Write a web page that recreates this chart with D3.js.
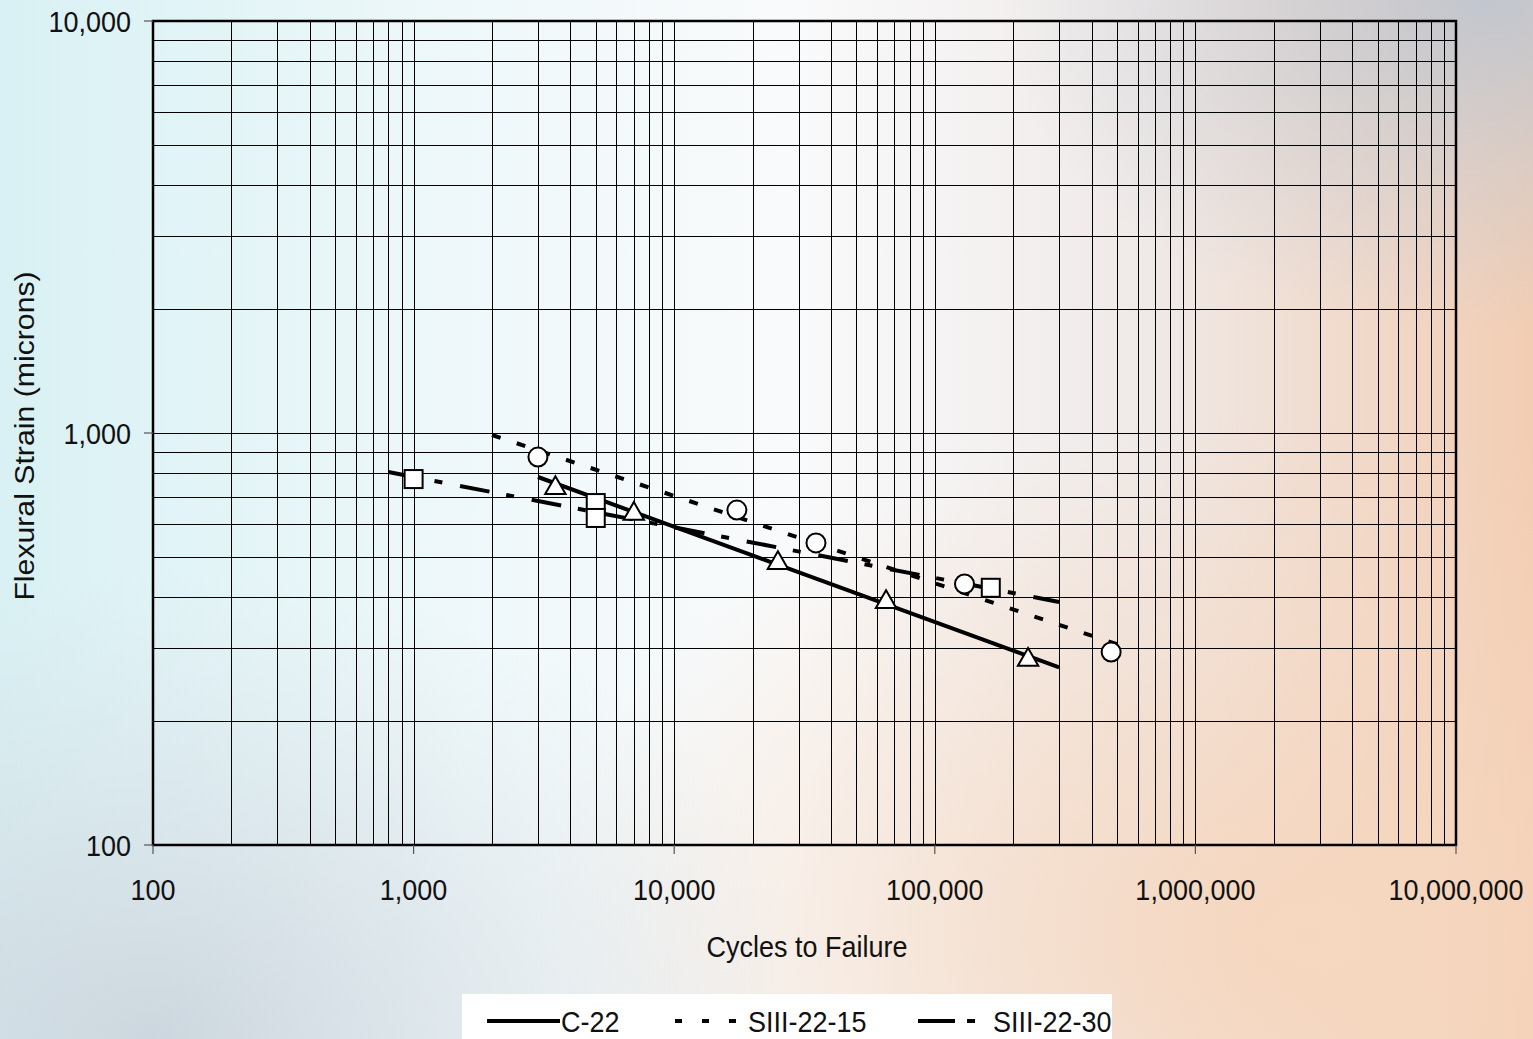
<!DOCTYPE html>
<html lang="en">
<head>
<meta charset="UTF-8" />
<title>Flexural fatigue</title>
<script src="https://d3js.org/d3.v7.min.js"></script>
<style>
  body { margin: 0; }
  svg { display: block; font-family: "Liberation Sans", Arial, sans-serif; }
  .grid line { stroke: #000; stroke-width: 1; shape-rendering: crispEdges; }
  .lbl { font-size: 27px; fill: #111; }
</style>
</head>
<body>
<script>
// series names
var seriesNames = ["C-22", "SIII-22-15", "SIII-22-30"];

// measured points (cycles, strain)
var c22Cycles = [3500, 7000, 25000, 65000, 228000];
var c22Strain = [739, 640, 486, 391, 283];

var s15Cycles = [3000, 17400, 35000, 130000, 475000];
var s15Strain = [874, 650, 541, 430, 294];

var s30Cycles = [1000, 5000, 5000, 164000];
var s30Strain = [773, 676, 622, 421];

// trend line end points
var c22TrendCycles = [3000, 300000];
var c22TrendStrain = [782, 270];
var s15TrendCycles = [2000, 550000];
var s15TrendStrain = [989, 301];
var s30TrendCycles = [800, 300000];
var s30TrendStrain = [804, 389];

// axis ticks
var xTicks = [100, 1000, 10000, 100000, 1000000, 10000000];
var yTicks = [100, 1000, 10000];

var width = 1533, height = 1039;
var mLeft = 153, mRight = 1456, mTop = 21, mBottom = 845;
var stretch = 1.12; // text in the original is a bit taller than wide

var svg = d3.select("body").append("svg").attr("width", width).attr("height", height);

// background
var defs = svg.append("defs");
var g1 = defs.append("linearGradient").attr("id", "bgH").attr("x1", 0).attr("x2", 1).attr("y1", 0).attr("y2", 0);
g1.append("stop").attr("offset", "0%").attr("stop-color", "#d9f1f4");
g1.append("stop").attr("offset", "30%").attr("stop-color", "#eef8fa");
g1.append("stop").attr("offset", "52%").attr("stop-color", "#f9fafb");
g1.append("stop").attr("offset", "75%").attr("stop-color", "#efe9e7");
g1.append("stop").attr("offset", "100%").attr("stop-color", "#f2cdb3");
var g2 = defs.append("radialGradient").attr("id", "bgTR").attr("cx", 0.97).attr("cy", 0.0).attr("r", 0.32);
g2.append("stop").attr("offset", "0%").attr("stop-color", "#bcc5d1").attr("stop-opacity", 0.9);
g2.append("stop").attr("offset", "100%").attr("stop-color", "#c5cdd8").attr("stop-opacity", 0);
var g3 = defs.append("radialGradient").attr("id", "bgBR").attr("cx", 0.85).attr("cy", 0.9).attr("r", 0.5);
g3.append("stop").attr("offset", "0%").attr("stop-color", "#f6d6bd").attr("stop-opacity", 0.95);
g3.append("stop").attr("offset", "100%").attr("stop-color", "#f6d6bd").attr("stop-opacity", 0);
var g4 = defs.append("radialGradient").attr("id", "bgBL").attr("cx", 0.1).attr("cy", 1).attr("r", 0.45);
g4.append("stop").attr("offset", "0%").attr("stop-color", "#c8cfd8").attr("stop-opacity", 0.8);
g4.append("stop").attr("offset", "100%").attr("stop-color", "#d8dde3").attr("stop-opacity", 0);

svg.append("rect").attr("width", width).attr("height", height).attr("fill", "url(#bgH)");
svg.append("rect").attr("width", width).attr("height", height).attr("fill", "url(#bgTR)");
svg.append("rect").attr("width", width).attr("height", height).attr("fill", "url(#bgBR)");
svg.append("rect").attr("width", width).attr("height", height).attr("fill", "url(#bgBL)");

var x = d3.scaleLog().domain([100, 10000000]).range([mLeft, mRight]);
var y = d3.scaleLog().domain([100, 10000]).range([mBottom, mTop]);
var fmt = d3.format(",");

// grid, all minor ticks
var grid = svg.append("g").attr("class", "grid");
grid.selectAll(".gx").data(x.ticks()).enter().append("line")
  .attr("x1", d => Math.round(x(d)) + 0.5).attr("x2", d => Math.round(x(d)) + 0.5)
  .attr("y1", mTop).attr("y2", mBottom);
grid.selectAll(".gy").data(y.ticks()).enter().append("line")
  .attr("y1", d => Math.round(y(d)) + 0.5).attr("y2", d => Math.round(y(d)) + 0.5)
  .attr("x1", mLeft).attr("x2", mRight);

// frame
svg.append("rect").attr("x", mLeft).attr("y", mTop).attr("width", mRight - mLeft).attr("height", mBottom - mTop)
  .attr("fill", "none").attr("stroke", "#000").attr("stroke-width", 2.5);

// major tick marks
svg.selectAll(".tx").data(xTicks).enter().append("line")
  .attr("x1", d => x(d)).attr("x2", d => x(d)).attr("y1", mBottom).attr("y2", mBottom + 9)
  .attr("stroke", "#555").attr("stroke-width", 1.2);
svg.selectAll(".ty").data(yTicks).enter().append("line")
  .attr("y1", d => y(d)).attr("y2", d => y(d)).attr("x1", mLeft - 9).attr("x2", mLeft)
  .attr("stroke", "#555").attr("stroke-width", 1.2);

function label(px, py, txt, anchor) {
  return svg.append("text").attr("class", "lbl")
    .attr("transform", "translate(" + px + "," + py + ") scale(1," + stretch + ")")
    .attr("text-anchor", anchor).text(txt);
}
xTicks.forEach(function (d) { label(x(d), 900, fmt(d), "middle"); });
yTicks.forEach(function (d) { label(131, y(d) + 11, fmt(d), "end"); });

label(807, 957, "Cycles to Failure", "middle");
svg.append("text").attr("class", "lbl")
  .attr("transform", "translate(34,436) rotate(-90) scale(" + stretch + ",1)")
  .attr("text-anchor", "middle").text("Flexural Strain (microns)");

// trend lines
var line = d3.line().x(d => x(d[0])).y(d => y(d[1]));
var dashes = [null, "9,17", "30,17,8,18"];
var trends = [
  d3.zip(c22TrendCycles, c22TrendStrain),
  d3.zip(s15TrendCycles, s15TrendStrain),
  d3.zip(s30TrendCycles, s30TrendStrain)
];

var plot = svg.append("g");
[2, 1, 0].forEach(function (i) {
  plot.append("path").datum(trends[i]).attr("d", line).attr("fill", "none")
    .attr("stroke", "#000").attr("stroke-width", 4).attr("stroke-dasharray", dashes[i]);
});

// markers
var tri = d3.symbol().type(d3.symbolTriangle).size(180);
plot.selectAll(".tri").data(d3.zip(c22Cycles, c22Strain)).enter().append("path")
  .attr("d", tri).attr("transform", d => "translate(" + x(d[0]) + "," + (y(d[1]) + 1) + ")")
  .attr("fill", "#fff").attr("stroke", "#000").attr("stroke-width", 2);
plot.selectAll(".circ").data(d3.zip(s15Cycles, s15Strain)).enter().append("circle")
  .attr("cx", d => x(d[0])).attr("cy", d => y(d[1])).attr("r", 9.5)
  .attr("fill", "#fff").attr("stroke", "#000").attr("stroke-width", 2);
plot.selectAll(".sq").data(d3.zip(s30Cycles, s30Strain)).enter().append("rect")
  .attr("x", d => x(d[0]) - 9).attr("y", d => y(d[1]) - 9).attr("width", 18).attr("height", 18)
  .attr("fill", "#fff").attr("stroke", "#000").attr("stroke-width", 2);

// legend
svg.append("rect").attr("x", 462).attr("y", 994).attr("width", 650).attr("height", 50).attr("fill", "#fff");
var legX = [487, 675, 918];
var legLen = [73, 65, 57];
var legTextX = [561, 748, 993];
var legDash = [null, "7,20", "37,12,8,20"];
seriesNames.forEach(function (name, i) {
  svg.append("line").attr("x1", legX[i]).attr("x2", legX[i] + legLen[i])
    .attr("y1", 1021).attr("y2", 1021).attr("stroke", "#000").attr("stroke-width", 4)
    .attr("stroke-dasharray", legDash[i]);
  label(legTextX[i], 1032, name, "start");
});
</script>
</body>
</html>
